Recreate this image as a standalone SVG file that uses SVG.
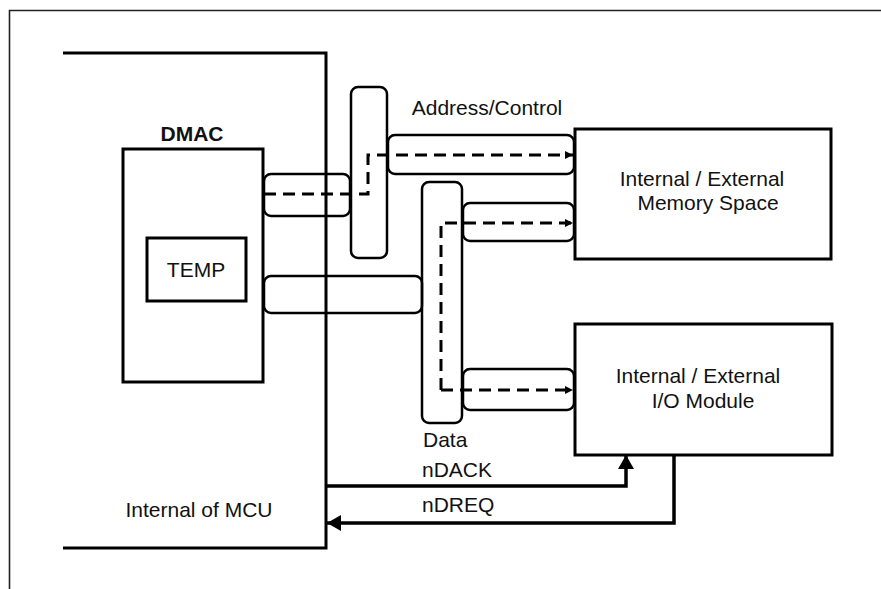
<svg xmlns="http://www.w3.org/2000/svg" width="881" height="589" viewBox="0 0 881 589">
<defs>
<style>
text{font-family:"Liberation Sans",Arial,sans-serif;font-size:21px;fill:#111}
.box{fill:none;stroke:#000;stroke-width:3}
.bus{fill:none;stroke:#000;stroke-width:2.5}
.dash{fill:none;stroke:#000;stroke-width:3;stroke-dasharray:12 7}
.sig{fill:none;stroke:#000;stroke-width:3.5}
</style>
<marker id="sa" markerUnits="userSpaceOnUse" markerWidth="10" markerHeight="10" refX="8" refY="4" orient="auto">
<path d="M0,0 L8,4 L0,8 Z" fill="#000"/>
</marker>
<marker id="la" markerUnits="userSpaceOnUse" markerWidth="16" markerHeight="18" refX="14" refY="8" orient="auto">
<path d="M0,0 L14,8 L0,16 Z" fill="#000"/>
</marker>
</defs>
<rect width="881" height="589" fill="#fff"/>
<g id="frame">
<path d="M9.5,589 V10.5 H881" fill="none" stroke="#222" stroke-width="1.6"/>
</g>
<g id="mcu">
<path class="box" d="M63,53 H326 V548 H63"/>
<text x="199" y="517" text-anchor="middle">Internal of MCU</text>
</g>
<g id="dmac">
<rect class="box" x="123" y="149" width="140" height="233"/>
<text x="192" y="141" text-anchor="middle" font-weight="bold">DMAC</text>
</g>
<g id="temp">
<rect class="box" x="147" y="238" width="99" height="63"/>
<text x="196" y="277" text-anchor="middle">TEMP</text>
</g>
<g id="buses">
<rect id="bus-dmac-addr" class="bus" x="264" y="174" width="86" height="42" rx="7"/>
<rect id="bus-dmac-data" class="bus" x="264" y="276" width="158" height="37" rx="7"/>
<rect id="bus-addr-v" class="bus" x="351" y="87" width="36" height="171" rx="7"/>
<rect id="bus-addr-h" class="bus" x="388" y="135" width="186" height="39" rx="7"/>
<rect id="bus-data-v" class="bus" x="422" y="182" width="40" height="241" rx="7"/>
<rect id="bus-data-h1" class="bus" x="463" y="203" width="111" height="38" rx="7"/>
<rect id="bus-data-h2" class="bus" x="463" y="369" width="111" height="41" rx="7"/>
<text x="487" y="115" text-anchor="middle">Address/Control</text>
<text x="423" y="447">Data</text>
</g>
<g id="memory">
<rect class="box" x="575" y="129" width="256" height="130"/>
<text x="702" y="186" text-anchor="middle">Internal / External</text>
<text x="708" y="210" text-anchor="middle">Memory Space</text>
</g>
<g id="io">
<rect class="box" x="575" y="324" width="257" height="131"/>
<text x="698" y="383" text-anchor="middle">Internal / External</text>
<text x="703" y="408" text-anchor="middle">I/O Module</text>
</g>
<g id="connectors">
<path class="dash" d="M264,194 H368 V155 H573" marker-end="url(#sa)"/>
<path class="dash" d="M441,390 V223 H573" marker-end="url(#sa)"/>
<path class="dash" d="M441,390 H573" marker-end="url(#sa)"/>
<path class="sig" d="M326,486 H626 V455" marker-end="url(#la)"/>
<path class="sig" d="M674,455 V523 H327" marker-end="url(#la)"/>
<text x="422" y="477">nDACK</text>
<text x="422" y="512">nDREQ</text>
</g>
</svg>
